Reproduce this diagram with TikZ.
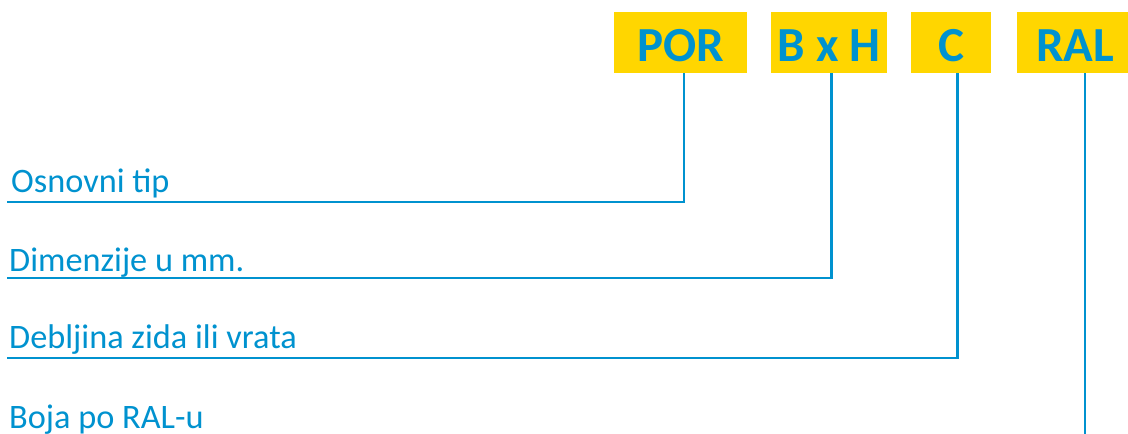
\documentclass[tikz,border=0pt]{standalone}
\usepackage{fontspec}
\setmainfont{Carlito}
\definecolor{ublue}{RGB}{0,146,207}
\definecolor{uyellow}{RGB}{255,214,0}
\begin{document}
\begin{tikzpicture}[x=1pt,y=-1pt,
  box/.style={fill=uyellow, text=ublue, font=\bfseries\fontsize{49}{49}\selectfont,
    inner sep=0pt, minimum height=61pt, text height=38pt, text depth=0pt},
  lbl/.style={text=ublue, font=\fontsize{34.3}{34.3}\selectfont, anchor=base west, inner sep=0pt},
  conn/.style={draw=ublue, line width=2.6pt}]
\useasboundingbox (0,0) rectangle (1128,434);
\node[box, minimum width=133pt] (por) at (680.5,42) {POR};
\node[box, minimum width=116pt] (bxh) at (829,42) {B x H};
\node[box, minimum width=80pt] (c) at (951,42) {C};
\node[box, minimum width=116pt] (ral) at (1075,42) {RAL};
\node[lbl] (l1) at (11,192) {Osnovni tip};
\node[lbl] (l2) at (9,271) {Dimenzije u mm.};
\node[lbl] (l3) at (9,348) {Debljina zida ili vrata};
\node[lbl] (l4) at (9,428) {Boja po RAL-u};
\coordinate (h1) at (7,202);
\coordinate (h2) at (7,278);
\coordinate (h3) at (7,358);
\coordinate (h4) at (1085,440);
\draw[conn] (h1) -| ([xshift=3.5pt]por.south);
\draw[conn] (h2) -| ([xshift=2.5pt]bxh.south);
\draw[conn] (h3) -| ([xshift=6.5pt]c.south);
\draw[conn] (h4) -- (h4 |- ral.south);
\end{tikzpicture}
\end{document}
